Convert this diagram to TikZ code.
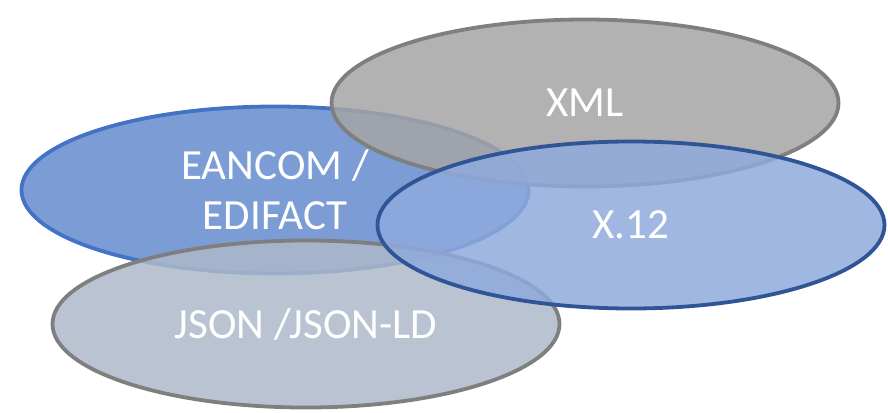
\documentclass[tikz,border=0pt]{standalone}
\usepackage{fontspec}
\setmainfont{Carlito}
\usetikzlibrary{shapes.geometric}
\definecolor{edicol}{HTML}{4472C4}
\definecolor{xmlcol}{HTML}{A5A5A5}
\definecolor{xcol}{HTML}{8FAADC}
\definecolor{xline}{HTML}{2F5597}
\definecolor{jsoncol}{HTML}{ADB9CA}
\definecolor{rimgray}{HTML}{7F7F7F}

\begin{document}
\begin{tikzpicture}[x=1pt,y=-1pt,
	blob/.style={ellipse,minimum width=507pt,minimum height=167pt,inner sep=0pt,
	line width=3.8pt,text=white,text opacity=1,align=center,
	font=\fontsize{43}{50}\selectfont}]
\useasboundingbox (0,0) rectangle (888,412);
\node[blob, draw=edicol, fill=edicol, fill opacity=0.7] (edifact) at (275,190) {EANCOM /\\EDIFACT};
\node[blob, draw=rimgray, fill=jsoncol, fill opacity=0.85] (json) at (306,324) {JSON /JSON-LD};
\node[blob, draw=rimgray, fill=xmlcol, fill opacity=0.85] (xml) at (585,103) {XML};
\node[blob, draw=xline, fill=xcol, fill opacity=0.85] (x12) at (631,225) {X.12};
\end{tikzpicture}
\end{document}
